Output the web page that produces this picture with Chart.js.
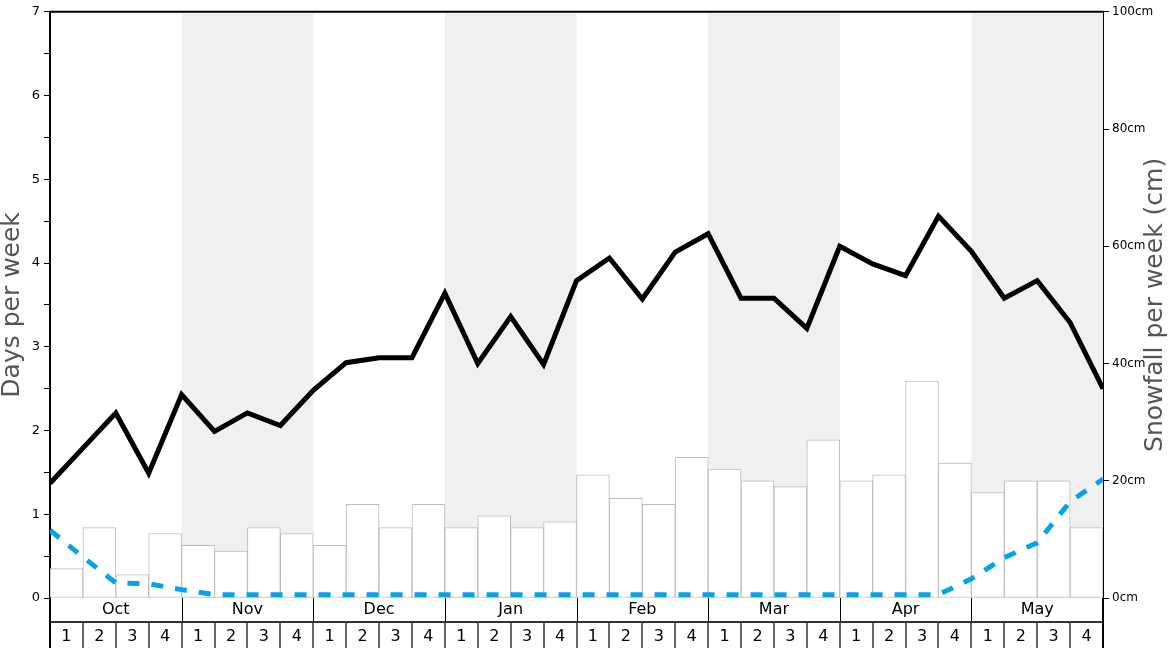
<!DOCTYPE html>
<html>
<head>
<meta charset="utf-8">
<script src="https://cdn.jsdelivr.net/npm/chart.js@4"></script>
<style>
  body { margin: 0; background: #fff; }
  canvas { display: block; }
</style>
</head>
<body>
<canvas id="chart" width="1168" height="648"></canvas>
<script>
// DATA
const months = ["Oct", "Nov", "Dec", "Jan", "Feb", "Mar", "Apr", "May"];
const weekLabels = ["1", "2", "3", "4"];
// weekly snowfall in cm (one bar per week)
const snowfallCm = [5, 12, 4, 11, 9, 8, 12, 11, 9, 16, 12, 16, 12, 14, 12, 13,
  21, 17, 16, 24, 22, 20, 19, 27, 20, 21, 37, 23, 18, 20, 20, 12];
// days per week, values at the week boundaries (33 points)
const snowDays = [1.37, 1.79, 2.21, 1.49, 2.43, 1.99, 2.21, 2.06, 2.48, 2.81, 2.87,
  2.87, 3.64, 2.8, 3.36, 2.79, 3.79, 4.06, 3.57, 4.13, 4.35, 3.58, 3.58, 3.22,
  4.2, 3.99, 3.85, 4.56, 4.14, 3.58, 3.79, 3.29, 2.5];
const dashedDays = [0.81, 0.49, 0.18, 0.17, 0.1, 0.04, 0.04, 0.04, 0.04, 0.04, 0.04,
  0.04, 0.04, 0.04, 0.04, 0.04, 0.04, 0.04, 0.04, 0.04, 0.04, 0.04, 0.04, 0.04,
  0.04, 0.04, 0.04, 0.04, 0.23, 0.48, 0.66, 1.15, 1.42];
const dayTicks = [0, 1, 2, 3, 4, 5, 6, 7];
const cmTicks = [0, 20, 40, 60, 80, 100];

const FONT = "DejaVu Sans";
const nWeeks = months.length * weekLabels.length;

// shading, borders, titles and the two rows under the chart
const decorPlugin = {
  id: "decor",
  beforeDatasetsDraw(chart) {
    const { ctx, chartArea: a, scales: { x } } = chart;
    ctx.save();
    ctx.fillStyle = "#f0f0f0";
    months.forEach((m, i) => {
      if (i % 2 === 1) {
        const x0 = x.getPixelForValue(i * 4);
        const x1 = x.getPixelForValue(i * 4 + 4);
        ctx.fillRect(x0, a.top, x1 - x0, a.bottom - a.top);
      }
    });
    ctx.restore();
  },
  afterDraw(chart) {
    const { ctx, chartArea: a, scales: { x } } = chart;
    const H = chart.height;
    const rowY = a.bottom + 24;
    ctx.save();
    ctx.strokeStyle = "#000";
    ctx.fillStyle = "#000";

    // top border
    ctx.lineWidth = 2;
    ctx.beginPath();
    ctx.moveTo(a.left - 1, a.top);
    ctx.lineTo(a.right + 1, a.top);
    ctx.stroke();

    // month row
    ctx.lineWidth = 1;
    for (let m = 1; m < months.length; m++) {
      const px = Math.round(x.getPixelForValue(m * 4)) + 0.5;
      ctx.beginPath();
      ctx.moveTo(px, a.bottom);
      ctx.lineTo(px, rowY);
      ctx.stroke();
    }
    ctx.font = "16px " + FONT;
    ctx.textAlign = "center";
    ctx.textBaseline = "middle";
    months.forEach((m, i) => {
      ctx.fillText(m, x.getPixelForValue(i * 4 + 2), a.bottom + 12);
    });

    ctx.lineWidth = 2;
    ctx.strokeStyle = "#333";
    ctx.beginPath();
    ctx.moveTo(a.left, rowY);
    ctx.lineTo(a.right, rowY);
    ctx.stroke();

    // week row
    ctx.lineWidth = 1.5;
    for (let w = 1; w < nWeeks; w++) {
      const px = Math.round(x.getPixelForValue(w));
      ctx.beginPath();
      ctx.moveTo(px, rowY);
      ctx.lineTo(px, H);
      ctx.stroke();
    }
    for (let w = 0; w < nWeeks; w++) {
      ctx.fillText(weekLabels[w % 4], x.getPixelForValue(w + 0.5), rowY + 15);
    }

    // side borders continue down through the rows
    ctx.lineWidth = 2;
    ctx.strokeStyle = "#000";
    [a.left, a.right].forEach(px => {
      ctx.beginPath();
      ctx.moveTo(px, a.bottom);
      ctx.lineTo(px, H);
      ctx.stroke();
    });

    // axis titles
    ctx.fillStyle = "#555";
    ctx.font = "25px " + FONT;
    ctx.translate(12, (a.top + a.bottom) / 2);
    ctx.rotate(-Math.PI / 2);
    ctx.fillText("Days per week", 0, 0);
    ctx.setTransform(1, 0, 0, 1, 0, 0);
    ctx.translate(1155, (a.top + a.bottom) / 2);
    ctx.rotate(-Math.PI / 2);
    ctx.fillText("Snowfall per week (cm)", 0, 0);
    ctx.restore();
  }
};

new Chart(document.getElementById("chart"), {
  data: {
    datasets: [
      {
        type: "line",
        label: "Days per week",
        data: snowDays.map((v, i) => ({ x: i, y: v })),
        yAxisID: "y",
        borderColor: "#000",
        borderWidth: 5,
        borderJoinStyle: "miter",
        pointRadius: 0,
        tension: 0,
        order: 1
      },
      {
        type: "line",
        label: "Dashed",
        data: dashedDays.map((v, i) => ({ x: i, y: v })),
        yAxisID: "y",
        borderColor: "#08a2e8",
        borderWidth: 5,
        borderDash: [12, 12],
        borderCapStyle: "butt",
        pointRadius: 0,
        tension: 0,
        order: 2
      },
      {
        type: "bar",
        label: "Snowfall",
        data: snowfallCm.map((v, i) => ({ x: i + 0.5, y: v })),
        yAxisID: "y2",
        backgroundColor: "#fff",
        borderColor: "#bdbdbd",
        borderWidth: 1,
        borderSkipped: false,
        barPercentage: 1,
        categoryPercentage: 1,
        order: 3
      }
    ]
  },
  options: {
    responsive: false,
    animation: false,
    layout: { padding: { top: 10, left: 0, right: 0, bottom: 0 } },
    plugins: { legend: { display: false }, tooltip: { enabled: false } },
    scales: {
      x: {
        type: "linear",
        min: 0,
        max: nWeeks,
        offset: false,
        ticks: { display: false },
        grid: { display: false },
        border: { display: false },
        afterFit: s => { s.height = 50; }
      },
      y: {
        position: "left",
        min: 0,
        max: 7,
        afterBuildTicks: s => {
          s.ticks = [];
          for (const t of dayTicks) {
            s.ticks.push({ value: t });
            if (t < 7) s.ticks.push({ value: t + 0.5 });
          }
        },
        ticks: {
          padding: 4,
          color: "#000",
          font: { family: FONT, size: 13 },
          callback: v => (dayTicks.includes(v) ? String(v) : "")
        },
        grid: { drawOnChartArea: false, tickLength: 6, color: "#000", tickWidth: 1 },
        border: { display: true, color: "#000", width: 2 },
        afterFit: s => { s.width = 50; }
      },
      y2: {
        position: "right",
        min: 0,
        max: 100,
        afterBuildTicks: s => { s.ticks = cmTicks.map(v => ({ value: v })); },
        ticks: {
          padding: 3,
          color: "#000",
          font: { family: FONT, size: 12 },
          callback: v => v + "cm"
        },
        grid: { drawOnChartArea: false, tickLength: 6, color: "#000", tickWidth: 1 },
        border: { display: true, color: "#000", width: 2 },
        afterFit: s => { s.width = 65; }
      }
    }
  },
  plugins: [decorPlugin]
});
</script>
</body>
</html>
